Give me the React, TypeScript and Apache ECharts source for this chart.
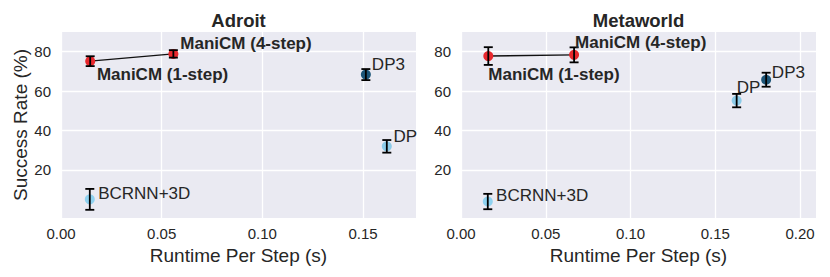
import React, { useEffect, useRef } from "react";
import * as echarts from "echarts";

const methods = ["ManiCM (1-step)", "ManiCM (4-step)", "DP3", "DP", "BCRNN+3D"];

const adroitRuntime = [0.0145, 0.0558, 0.1514, 0.1618, 0.0143];
const adroitSuccess = [75.2, 78.9, 68.4, 32.0, 5.1];
const adroitStd = [2.5, 1.9, 2.8, 3.2, 5.3];

const metaRuntime = [0.0161, 0.0667, 0.18, 0.1626, 0.0158];
const metaSuccess = [77.8, 78.4, 65.8, 55.2, 4.0];
const metaStd = [4.5, 3.8, 3.55, 3.4, 3.9];

const xTickValues = [0, 0.05, 0.1, 0.15, 0.2];
const yTickValues = [20, 40, 60, 80];
const panelTitles = ["Adroit", "Metaworld"];

// styles (kept apart from data)
const methodColors = ["#e8282d", "#e8282d", "#1c5578", "#8ccbe8", "#8fd2f0"];
const methodBold = [true, true, false, false, false];
const adroitLabelOffsets = [[6.7, 13.3], [7, -10.7], [6, -10], [6.6, -9.6], [8.4, -6]];
const metaLabelOffsets = [[0, 18], [1, -12.6], [5.7, -7.6], [0, -13.4], [8.3, -6]];

const TEXT = "#262626";
const FONT = "'Liberation Sans', Arial, Helvetica, sans-serif";

function buildPanel(
  idx: number,
  runtime: number[],
  success: number[],
  std: number[],
  offsets: number[][]
) {
  const scatterData = methods.map((m, i) => ({
    name: m,
    value: [runtime[i], success[i]],
    itemStyle: { color: methodColors[i], opacity: 1 },
  }));
  const errData = methods.map((m, i) => [runtime[i], success[i], std[i]]);
  const labelData = methods.map((m, i) => [runtime[i], success[i]]);
  const lineData = [
    [runtime[0], success[0]],
    [runtime[1], success[1]],
  ];
  return [
    {
      type: "line",
      xAxisIndex: idx,
      yAxisIndex: idx,
      data: lineData,
      symbol: "none",
      lineStyle: { color: "#111", width: 1.4 },
      z: 2,
    },
    {
      type: "scatter",
      xAxisIndex: idx,
      yAxisIndex: idx,
      data: scatterData,
      symbolSize: 10,
      z: 3,
    },
    {
      type: "custom",
      xAxisIndex: idx,
      yAxisIndex: idx,
      data: errData,
      z: 4,
      renderItem: (params: any, api: any) => {
        const x = api.value(0);
        const y = api.value(1);
        const e = api.value(2);
        const top = api.coord([x, y + e]);
        const bot = api.coord([x, y - e]);
        const hw = 4.5;
        const style = { stroke: "#000", lineWidth: 1.8 };
        return {
          type: "group",
          children: [
            { type: "line", shape: { x1: top[0], y1: top[1], x2: bot[0], y2: bot[1] }, style },
            { type: "line", shape: { x1: top[0] - hw, y1: top[1], x2: top[0] + hw, y2: top[1] }, style },
            { type: "line", shape: { x1: bot[0] - hw, y1: bot[1], x2: bot[0] + hw, y2: bot[1] }, style },
          ],
        };
      },
    },
    {
      type: "custom",
      xAxisIndex: idx,
      yAxisIndex: idx,
      data: labelData,
      z: 5,
      clip: false,
      renderItem: (params: any, api: any) => {
        const i = params.dataIndex;
        const p = api.coord([api.value(0), api.value(1)]);
        return {
          type: "text",
          x: p[0] + offsets[i][0],
          y: p[1] + offsets[i][1],
          style: {
            text: methods[i],
            fill: TEXT,
            fontSize: 17,
            fontWeight: methodBold[i] ? "bold" : "normal",
            fontFamily: FONT,
            textAlign: "left",
            textVerticalAlign: "middle",
          },
        };
      },
    },
  ];
}

function xAxis(idx: number, max: number) {
  return {
    type: "value",
    gridIndex: idx,
    min: 0,
    max,
    name: "Runtime Per Step (s)",
    nameLocation: "middle",
    nameGap: 26,
    nameTextStyle: { color: TEXT, fontSize: 19, fontFamily: FONT },
    axisLine: { show: false },
    axisTick: { show: false, customValues: xTickValues.filter((v) => v <= max) },
    axisLabel: {
      customValues: xTickValues.filter((v) => v <= max),
      formatter: (v: number) => v.toFixed(2),
      color: TEXT,
      fontSize: 15,
      fontFamily: FONT,
      margin: 8,
    },
    splitLine: { show: true, lineStyle: { color: "#ffffff", width: 1.3 } },
  };
}

function yAxis(idx: number, withName: boolean) {
  return {
    type: "value",
    gridIndex: idx,
    min: -4.35,
    max: 90,
    name: withName ? "Success Rate (%)" : "",
    nameLocation: "middle",
    nameGap: 30,
    nameTextStyle: { color: TEXT, fontSize: 19, fontFamily: FONT },
    axisLine: { show: false },
    axisTick: { show: false, customValues: yTickValues },
    axisLabel: {
      customValues: yTickValues,
      color: TEXT,
      fontSize: 15,
      fontFamily: FONT,
      margin: 10,
    },
    splitLine: { show: true, lineStyle: { color: "#ffffff", width: 1.3 } },
  };
}

export default function App() {
  const ref = useRef<HTMLDivElement>(null);
  useEffect(() => {
    if (!ref.current) return;
    const chart = echarts.init(ref.current, undefined, { renderer: "svg" });
    const grids = [
      { left: 61, top: 32, width: 355, height: 186 },
      { left: 461, top: 32, width: 355, height: 186 },
    ];
    chart.setOption({
      animation: false,
      backgroundColor: "#ffffff",
      textStyle: { fontFamily: FONT },
      grid: grids.map((g) => ({
        ...g,
        show: true,
        backgroundColor: "#EAEAF2",
        borderWidth: 0,
        containLabel: false,
      })),
      xAxis: [xAxis(0, 0.1763), xAxis(1, 0.2094)],
      yAxis: [yAxis(0, true), yAxis(1, false)],
      graphic: panelTitles.map((t, i) => ({
        type: "text",
        x: grids[i].left + grids[i].width / 2,
        y: 20,
        style: {
          text: t,
          fill: TEXT,
          fontSize: 18.5,
          fontWeight: "bold",
          fontFamily: FONT,
          textAlign: "center",
          textVerticalAlign: "middle",
        },
      })),
      series: [
        ...buildPanel(0, adroitRuntime, adroitSuccess, adroitStd, adroitLabelOffsets),
        ...buildPanel(1, metaRuntime, metaSuccess, metaStd, metaLabelOffsets),
      ],
    });
    return () => chart.dispose();
  }, []);
  return (
    <div
      ref={ref}
      style={{ position: "fixed", left: 0, top: 0, width: 830, height: 277 }}
    />
  );
}
